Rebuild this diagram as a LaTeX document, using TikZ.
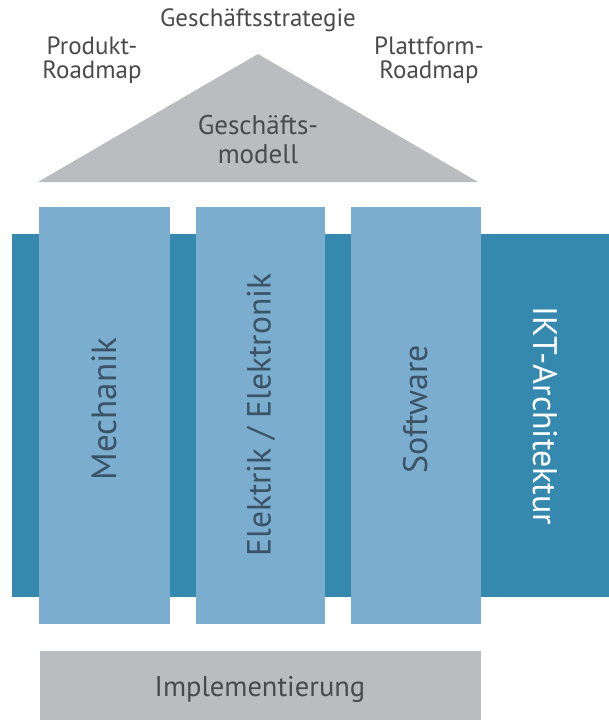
\documentclass[tikz,border=0pt]{standalone}
\usepackage{fontspec}
\setmainfont{PT Sans}
\definecolor{bandblue}{HTML}{3589AF}
\definecolor{pillarblue}{HTML}{7BADCE}
\definecolor{roofgray}{HTML}{BBBCBF}
\definecolor{textgray}{HTML}{4A4A4C}
\definecolor{pillartext}{HTML}{3A5366}
\tikzset{
  toplabel/.style={text=textgray, align=center, inner sep=0pt, font=\fontsize{25}{24}\selectfont},
  pillarlabel/.style={text=pillartext, rotate=90, inner sep=0pt, font=\fontsize{33.5}{36}\selectfont},
}
\begin{document}
\begin{tikzpicture}[x=1pt,y=-1pt]
\useasboundingbox (0,0) rectangle (609,720);

\def\T{234}
\def\B{597}
% Band
  \fill[bandblue] (12,\T) rectangle (609,\B);
% Pillars
  \foreach \l/\r in {39/170, 196/325, 351/481}
  \fill[pillarblue] (\l,207) rectangle (\r,624);
% Dach
  \fill[roofgray] (38,182) -- (258,54) -- (478,182) -- cycle;
% Fundament
  \fill[roofgray] (40,651) rectangle (481,720);

% Labels
  \node[toplabel] (strategie) at (258,20) {Geschäftsstrategie};
  \node[toplabel] (produkt) at (92,60) {Produkt-\\Roadmap};
  \node[toplabel] (plattform) at (429,60) {Plattform-\\Roadmap};
  \node[toplabel, font=\fontsize{27}{29}\selectfont] (modell) at (258,140) {Geschäfts-\\modell};
  \node[pillarlabel, font=\fontsize{35}{36}\selectfont] (mechanik) at (104,409) {Mechanik};
  \node[pillarlabel] (elektrik) at (261,415) {Elektrik / Elektronik};
  \node[pillarlabel, font=\fontsize{34}{36}\selectfont] (software) at (416,409) {Software};
  \node[pillarlabel, text=white, rotate=180, font=\fontsize{34}{36}\selectfont] (ikt) at (545,416) {IKT-Architektur};
  \node[toplabel, font=\fontsize{28.5}{30}\selectfont] (implementierung) at (260,689) {Implementierung};
\end{tikzpicture}
\end{document}
